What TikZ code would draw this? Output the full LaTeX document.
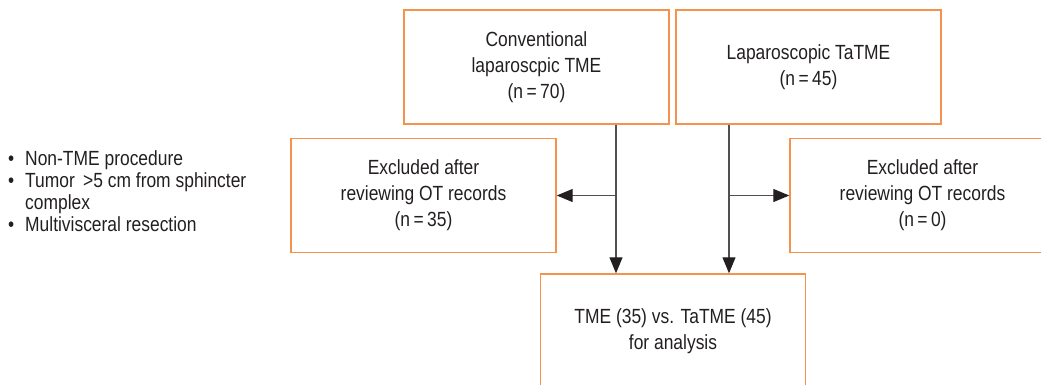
\documentclass[tikz,border=0pt]{standalone}
\usepackage{fontspec}
\setmainfont[FakeStretch=0.85]{Liberation Sans}
\usetikzlibrary{arrows.meta}
\definecolor{boxorange}{RGB}{245,146,78}
\definecolor{inkgray}{RGB}{35,31,32}
\definecolor{linegray}{RGB}{80,80,80}

\begin{document}
\begin{tikzpicture}[x=1pt, y=-1pt, align=center, stage/.style={rectangle,
  draw=boxorange, line width=1.4pt, minimum width=265pt, minimum height=114pt,
  inner sep=0pt}, flow/.style={draw=linegray, line width=1.1pt,
  -{Triangle[length=16pt,width=13pt,color=inkgray]}}, every
  node/.style={font=\fontsize{20.5}{26}\selectfont, text=inkgray} ]

\useasboundingbox (0,0) rectangle (1041,384);
\clip (0,0) rectangle (1041,384);

% Study arms
\node[stage] (conv) at (536.5,67) {Conventional\\ laparoscpic TME\\ (n\,=\,70)};
\node[stage] (tatme) at (808.5,67) {Laparoscopic TaTME\\ (n\,=\,45)};

% Exclusions
\node[stage] (exl) at (423.5,195.5) {Excluded after\\ reviewing OT records\\ (n\,=\,35)};
\node[stage] (exr) at (922.5,195.5) {Excluded after\\ reviewing OT records\\ (n\,=\,0)};

% Final cohort
\node[stage] (final) at (673,331) {TME (35) vs. TaTME (45)\\ for analysis};

% Exclusion criteria
\node[anchor=north west, align=left, inner sep=0pt,
  font=\fontsize{20.5}{22}\selectfont] (crit) at (8,150)
  {\makebox[17pt][l]{\textbullet}Non-TME procedure\\
   \makebox[17pt][l]{\textbullet}Tumor \,>5 cm from sphincter\\
   \hspace*{17pt}complex\\
   \makebox[17pt][l]{\textbullet}Multivisceral resection};

% Junctions
\coordinate (jl) at (616,195.5);
\coordinate (jr) at (729,195.5);

% Connections
\draw[flow] (conv.south -| jl) -- (jl |- final.north);
\draw[flow] (tatme.south -| jr) -- (jr |- final.north);
\draw[flow] (jl) -- (exl.east);
\draw[flow] (jr) -- (exr.west);

\end{tikzpicture}
\end{document}
